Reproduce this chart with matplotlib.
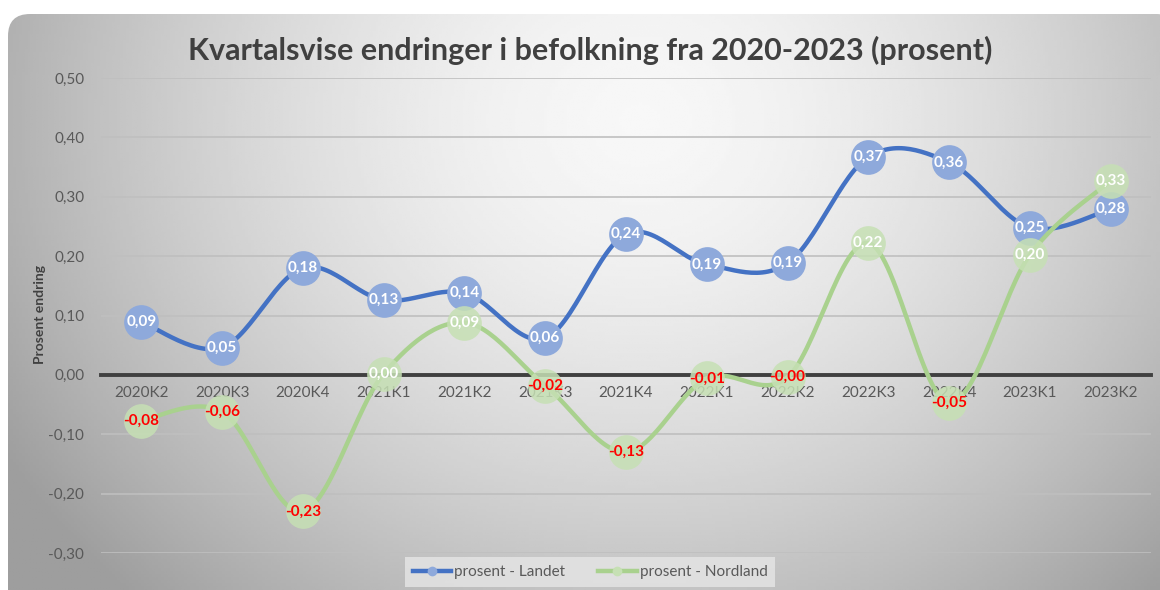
import numpy as np
import matplotlib
matplotlib.use('Agg')
import matplotlib.pyplot as plt
from matplotlib.patches import FancyBboxPatch
from matplotlib.lines import Line2D

plt.rcParams['font.family'] = ['Lato', 'DejaVu Sans']

# Data
quarters = ['2020K2', '2020K3', '2020K4', '2021K1', '2021K2', '2021K3', '2021K4',
            '2022K1', '2022K2', '2022K3', '2022K4', '2023K1', '2023K2']
landet = [0.089, 0.046, 0.180, 0.126, 0.138, 0.062, 0.237, 0.186, 0.188, 0.367, 0.358, 0.248, 0.279]
nordland = [-0.077, -0.062, -0.230, 0.002, 0.088, -0.018, -0.130, -0.006, -0.004, 0.222, -0.047, 0.202, 0.327]
yticks = [-0.3, -0.2, -0.1, 0.0, 0.1, 0.2, 0.3, 0.4, 0.5]

blue, blue_marker = '#4472C4', '#8EA9DB'
green, green_marker = '#A9D18E', '#C6E0B4'
text_grey = '#595959'


def smooth(xs, ys, n=30):
    # Excel-style smoothed line (Catmull-Rom / bezier with 1/6 tension)
    p = np.column_stack([xs, ys]).astype(float)
    pts = np.vstack([p[0], p, p[-1]])
    t = np.linspace(0, 1, n)[:, None]
    out = []
    for i in range(1, len(pts) - 2):
        p0, p1, p2, p3 = pts[i - 1], pts[i], pts[i + 1], pts[i + 2]
        c1 = p1 + (p2 - p0) / 6
        c2 = p2 - (p3 - p1) / 6
        seg = ((1 - t) ** 3) * p1 + 3 * ((1 - t) ** 2) * t * c1 + 3 * (1 - t) * t ** 2 * c2 + t ** 3 * p2
        out.append(seg if i == 1 else seg[1:])
    out = np.vstack(out)
    return out[:, 0], out[:, 1]


fig = plt.figure(figsize=(11.6, 5.9), dpi=100)
fig.patch.set_facecolor('white')

# gradient background panel with rounded corners
bg = fig.add_axes([0, 0, 1, 1], zorder=-10)
bg.set_xlim(0, 1160)
bg.set_ylim(590, 0)
bg.axis('off')
gx, gy = np.meshgrid(np.linspace(0, 1160, 400), np.linspace(0, 590, 200))
r = np.sqrt(((gx - 640) / 700) ** 2 + ((gy - 120) / 620) ** 2)
shade = np.clip(0.97 - 0.32 * r ** 1.6, 0.62, 1.0)
im = bg.imshow(shade, cmap='gray', vmin=0, vmax=1, extent=[0, 1160, 590, 0], aspect='auto')
panel = FancyBboxPatch((8, 14), 1170, 600, boxstyle='round,pad=0,rounding_size=22',
                       transform=bg.transData, facecolor='none', edgecolor='none')
bg.add_patch(panel)
im.set_clip_path(panel)

ax = fig.add_axes([101 / 1160, 1 - 553 / 590, 1050 / 1160, 475 / 590])
ax.set_facecolor('none')
x = np.arange(len(quarters))

bx, by = smooth(x, landet)
ax.plot(bx, by, color=blue, lw=3.2, solid_capstyle='round', zorder=3)
ax.plot(x, landet, 'o', ms=25, mfc=blue_marker, mec='none', zorder=4)
gx2, gy2 = smooth(x, nordland)
ax.plot(gx2, gy2, color=green, lw=3.2, solid_capstyle='round', zorder=5)
ax.plot(x, nordland, 'o', ms=25, mfc=green_marker, mec='none', alpha=0.85, zorder=6)

for xi, v in zip(x, landet):
    ax.text(xi, v, f'{v:.2f}'.replace('.', ','), ha='center', va='center',
            color='white', fontsize=11, fontweight='bold', zorder=8)
for xi, v in zip(x, nordland):
    lbl = f'{v:.2f}'.replace('.', ',')
    ax.text(xi, v, lbl, ha='center', va='center', fontsize=11, fontweight='bold',
            color='#FF0000' if v < 0 else 'white', zorder=8)

ax.set_xlim(-0.5, len(quarters) - 0.5)
ax.set_ylim(-0.3, 0.5)
ax.set_yticks(yticks)
ax.set_yticklabels([f'{v:.2f}'.replace('.', ',') for v in yticks])
ax.set_xticks(x)
ax.set_xticklabels(quarters)
ax.grid(axis='y', color='#BFBFBF', lw=1.2, zorder=0)
ax.set_axisbelow(True)
for s in ['top', 'right', 'left']:
    ax.spines[s].set_visible(False)
ax.spines['bottom'].set_position(('data', 0))
ax.spines['bottom'].set_color('#404040')
ax.spines['bottom'].set_linewidth(2.8)
ax.spines['bottom'].set_zorder(2)
ax.tick_params(axis='both', length=0, labelsize=11, labelcolor=text_grey)
ax.tick_params(axis='x', pad=8)
ax.tick_params(axis='y', pad=12)

fig.text(40 / 1160, 1 - 315 / 590, 'Prosent endring', rotation=90, ha='center', va='center',
         fontsize=10, fontweight='bold', color='#404040')
fig.text(590 / 1160, 1 - 50 / 590, 'Kvartalsvise endringer i befolkning fra 2020-2023 (prosent)',
         ha='center', va='center', fontsize=22, fontweight='bold', color='#404040')

handles = [
    Line2D([], [], color=blue, lw=3.2, marker='o', ms=7, mfc=blue_marker, mec='none'),
    Line2D([], [], color=green, lw=3.2, marker='o', ms=7, mfc=green_marker, mec='none'),
]
leg = fig.legend(handles, ['prosent - Landet', 'prosent - Nordland'], loc='center',
                 bbox_to_anchor=(590 / 1160, 1 - 572 / 590), ncol=2, frameon=True,
                 fontsize=11, handlelength=2.5, handletextpad=0.2, columnspacing=2.2,
                 fancybox=False, borderpad=0.5)
leg.get_frame().set_facecolor('#E6E6E6')
leg.get_frame().set_edgecolor('none')
for t in leg.get_texts():
    t.set_color(text_grey)

fig.savefig('out.png', dpi=100)
